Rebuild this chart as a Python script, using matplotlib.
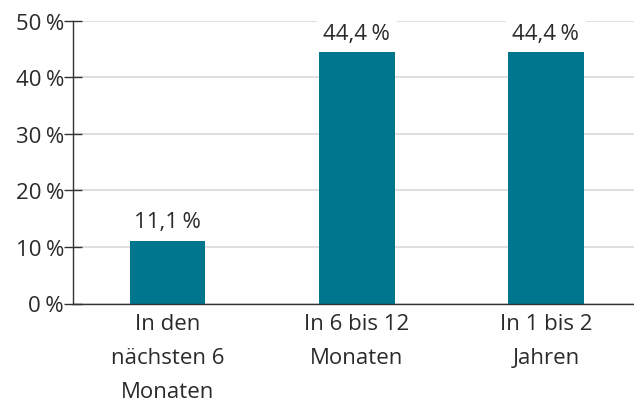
import matplotlib
matplotlib.use("Agg")
import matplotlib.pyplot as plt

categories = ["In den\nnächsten 6\nMonaten", "In 6 bis 12\nMonaten", "In 1 bis 2\nJahren"]
values = [11.1, 44.4, 44.4]
yticks = [0, 10, 20, 30, 40, 50]
ytick_labels = ["0\u202f%", "10\u202f%", "20\u202f%", "30\u202f%", "40\u202f%", "50\u202f%"]

plt.rcParams['font.family'] = ['Open Sans', 'DejaVu Sans']
TEXT = "#2a2a2a"
BAR = "#00768E"
FS = 16

fig = plt.figure(figsize=(6.34, 4.10), dpi=100)
W, H = 634, 410
left, right, bottom, top = 73, 640.5, 410 - 304.5, 410 - 21.5
ax = fig.add_axes([left / W, bottom / H, (right - left) / W, (top - bottom) / H])

x = range(len(categories))
ax.bar(x, values, width=0.4, color=BAR, zorder=3)

ax.set_xlim(-0.5, 2.5)
ax.set_ylim(0, 50)
ax.set_yticks(yticks)
ax.set_yticklabels(ytick_labels, fontsize=FS, color=TEXT)
ax.set_xticks(list(x))
ax.set_xticklabels(categories, fontsize=FS, color=TEXT, linespacing=1.8)
ax.tick_params(axis='x', length=0, pad=7)
ax.tick_params(axis='y', direction='inout', length=13, width=1, color="#333333", pad=0)

for s in ['top', 'right']:
    ax.spines[s].set_visible(False)
for s in ['left', 'bottom']:
    ax.spines[s].set_color("#333333")
    ax.spines[s].set_linewidth(1)
    ax.spines[s].set_zorder(4)

ax.yaxis.grid(True, color="#d9d9d9", linewidth=1.2, zorder=0)
ax.set_axisbelow(True)

for xi, v in zip(x, values):
    ax.annotate(f"{v:.1f}".replace(".", ",") + "\u202f%", xy=(xi, v), xytext=(0, 6),
                textcoords="offset points", ha="center", va="bottom",
                fontsize=FS, color=TEXT, zorder=5,
                bbox=dict(boxstyle="square,pad=0.3", fc="white", ec="none"))

fig.savefig("out.png", dpi=100)
